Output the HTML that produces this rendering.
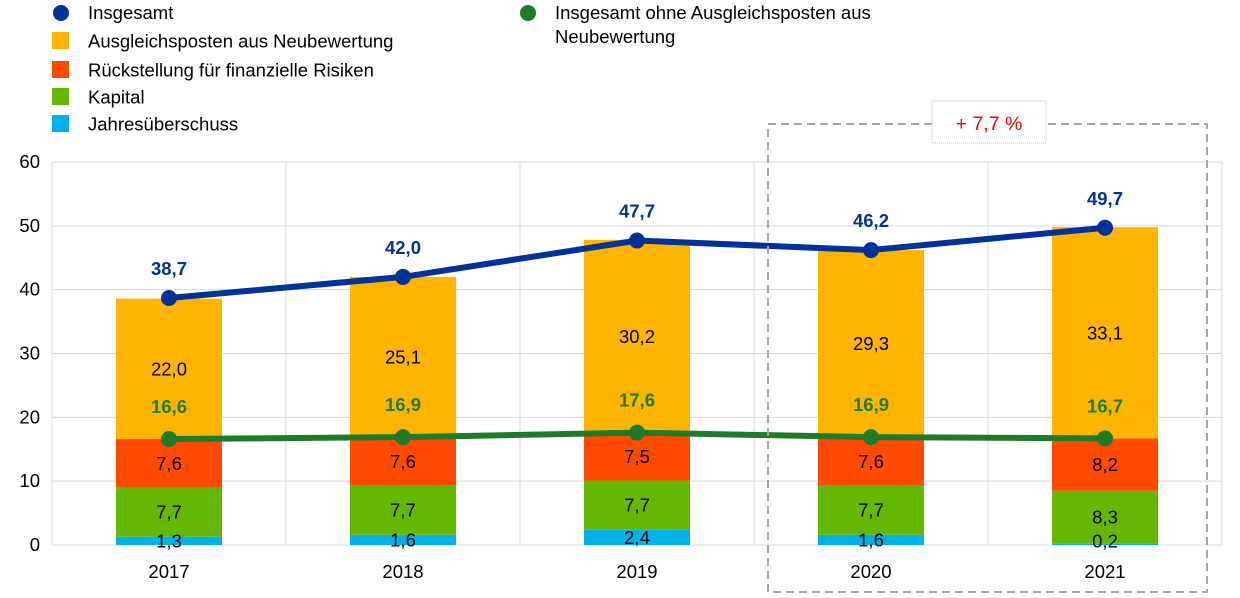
<!DOCTYPE html>
<html><head><meta charset="utf-8"><style>
html,body{margin:0;padding:0;background:#fff;}
svg{display:block;font-family:"Liberation Sans",Arial,sans-serif;}
</style></head><body>
<svg id="c" width="1240" height="598" xmlns="http://www.w3.org/2000/svg"></svg>
<script>
var s='';var F=18.5;
function Y(v){return 545-6.383*v;}
for(var i=0;i<=60;i+=10){s+='<line x1="52" x2="1222" y1="'+Y(i)+'" y2="'+Y(i)+'" stroke="#d9d9d9" stroke-width="1"/>';
s+='<text x="40" y="'+(Y(i)+6)+'" text-anchor="end" font-size="'+F+'" fill="#000">'+i+'</text>';}
for(var x=52;x<=1222;x+=234){s+='<line x1="'+x+'" x2="'+x+'" y1="162" y2="545" stroke="#d9d9d9" stroke-width="1"/>';}
var d=[[1.3,7.7,7.6,22.0,'38,7','16,6',38.7,16.6,'1,3','7,7','7,6','22,0'],
[1.6,7.7,7.6,25.1,'42,0','16,9',42.0,16.9,'1,6','7,7','7,6','25,1'],
[2.4,7.7,7.5,30.2,'47,7','17,6',47.7,17.6,'2,4','7,7','7,5','30,2'],
[1.6,7.7,7.6,29.3,'46,2','16,9',46.2,16.9,'1,6','7,7','7,6','29,3'],
[0.2,8.3,8.2,33.1,'49,7','16,7',49.7,16.7,'0,2','8,3','8,2','33,1']];
var cols=['#00b1ea','#65b800','#ff4b00','#ffb400'];
var years=['2017','2018','2019','2020','2021'];
var bp='',gp='',lbl='';
d.forEach(function(r,k){var cx=169+234*k,b=0;
 for(var j=0;j<4;j++){var t=b+r[j];s+='<rect x="'+(cx-53)+'" y="'+Y(t)+'" width="106" height="'+(Y(b)-Y(t))+'" fill="'+cols[j]+'"/>';
  var my=(Y(b)+Y(t))/2; if(j==0)my=Math.min(my,541);
  lbl+='<text x="'+cx+'" y="'+(my+6.5)+'" text-anchor="middle" font-size="'+F+'" fill="#000">'+r[8+j]+'</text>';b=t;}
 s+='<text x="'+cx+'" y="578" text-anchor="middle" font-size="'+F+'" fill="#000">'+years[k]+'</text>';
 bp+=(k?'L':'M')+cx+' '+Y(r[6]);gp+=(k?'L':'M')+cx+' '+Y(r[7]);
 lbl+='<text x="'+cx+'" y="'+(Y(r[6])-23)+'" text-anchor="middle" font-size="'+F+'" font-weight="bold" fill="#003299">'+r[4]+'</text>';
 lbl+='<text x="'+cx+'" y="'+(Y(r[7])-26)+'" text-anchor="middle" font-size="'+F+'" font-weight="bold" fill="#1e7b28">'+r[5]+'</text>';
});
s+=lbl;
s+='<path d="'+gp+'" fill="none" stroke="#1e7b28" stroke-width="6"/>';
s+='<path d="'+bp+'" fill="none" stroke="#003299" stroke-width="6"/>';
d.forEach(function(r,k){var cx=169+234*k;s+='<circle cx="'+cx+'" cy="'+Y(r[7])+'" r="8" fill="#1e7b28"/><circle cx="'+cx+'" cy="'+Y(r[6])+'" r="8" fill="#003299"/>';});
s+='<path d="M932 124 L768 124 L768 592 L1207 592 L1207 124 L1046 124" fill="none" stroke="#a6a6a6" stroke-width="2" stroke-dasharray="8,5"/>';
s+='<rect x="932" y="101" width="114" height="42" fill="#fff" stroke="#bfbfbf" stroke-width="1" stroke-dasharray="1,1"/>';
s+='<text x="989" y="130" text-anchor="middle" font-size="19.5" fill="#ff0000">+ 7,7 %</text>';
s+='<circle cx="61" cy="13" r="8" fill="#003299"/><text x="88" y="19" font-size="'+F+'">Insgesamt</text>';
var ln=[['#ffb400','Ausgleichsposten aus Neubewertung',41],['#ff4b00','Rückstellung für finanzielle Risiken',70],['#65b800','Kapital',97],['#00b1ea','Jahresüberschuss',124]];
ln.forEach(function(l){s+='<rect x="52" y="'+(l[2]-9)+'" width="17" height="17" fill="'+l[0]+'"/><text x="88" y="'+(l[2]+6.5)+'" font-size="'+F+'">'+l[1]+'</text>';});
s+='<circle cx="528" cy="13" r="8" fill="#1e7b28"/><text x="555" y="19" font-size="'+F+'">Insgesamt ohne Ausgleichsposten aus</text><text x="555" y="43" font-size="'+F+'">Neubewertung</text>';
document.getElementById('c').innerHTML=s;
</script>
</body></html>
